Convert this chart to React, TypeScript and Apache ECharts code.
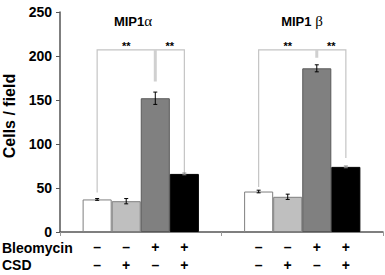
import React, { useEffect, useRef } from "react";
import * as echarts from "echarts";

const categories = ["MIP1α", "MIP1β"];
const conditions = ["Vehicle", "CSD", "Bleomycin", "Bleomycin + CSD"];
const bleomycinSigns = ["–", "–", "+", "+"];
const csdSigns = ["–", "+", "–", "+"];
const vehicleValues = [37, 46];
const csdValues = [35, 40];
const bleoValues = [152, 186];
const bleoCsdValues = [66, 74];
const vehicleErrors = [1, 1.5];
const csdErrors = [3, 3];
const bleoErrors = [7, 4];
const bleoCsdErrors = [1, 1];
// brackets: [group, topValue, leftEnd, middleEnd, rightEnd]
const bracketTop = [207, 207];
const bracketLeftEnd = [45, 51];
const bracketMiddleEnd = [171, 198];
const bracketRightEnd = [67, 84];
const sigLabels = ["**", "**"];
const yTicks = [0, 50, 100, 150, 200, 250];

const seriesValues = [vehicleValues, csdValues, bleoValues, bleoCsdValues];
const seriesErrors = [vehicleErrors, csdErrors, bleoErrors, bleoCsdErrors];
const fills = ["#ffffff", "#bfbfbf", "#808080", "#000000"];
const borders = ["#7f7f7f", "#7f7f7f", "#595959", "#000000"];
const GAP = 0.28;

function barCenter(api: any, g: number, i: number) {
  const cx = api.coord([g, 0])[0];
  const band = api.size([1, 0])[0];
  const bw = (band * (1 - GAP)) / 4;
  return cx + (i - 1.5) * bw;
}

export default function App() {
  const ref = useRef<HTMLDivElement>(null);
  useEffect(() => {
    const chart = echarts.init(ref.current!, null, { renderer: "svg" });
    const font = "Liberation Sans, Arial, sans-serif";

    const errData: any[] = [];
    seriesValues.forEach((vals, i) =>
      vals.forEach((v, g) => errData.push([g, i, v, seriesErrors[i][g]]))
    );
    const signData: any[] = [];
    categories.forEach((_, g) => conditions.forEach((__, i) => signData.push([g, i])));
    const bracketData = categories.map((_, g) => [
      g,
      bracketTop[g],
      bracketLeftEnd[g],
      bracketMiddleEnd[g],
      bracketRightEnd[g],
    ]);

    chart.setOption({
      animation: false,
      grid: { left: 60, right: 2, top: 12, bottom: 43 },
      xAxis: {
        type: "category",
        data: categories,
        axisLine: { lineStyle: { color: "#555", width: 1.5 } },
        axisTick: { show: true, length: 4, lineStyle: { color: "#999" } },
        axisLabel: { show: false },
      },
      yAxis: {
        type: "value",
        min: 0,
        max: 250,
        interval: 50,
        splitLine: { show: false },
        axisLine: { show: true, lineStyle: { color: "#555", width: 1.5 } },
        axisTick: { show: true, length: 4, lineStyle: { color: "#555" } },
        axisLabel: {
          color: "#000",
          fontWeight: "bold",
          fontSize: 14,
          fontFamily: font,
          margin: 8,
        },
      },
      graphic: [
        {
          type: "text",
          x: 9,
          y: 116,
          rotation: Math.PI / 2,
          style: {
            text: "Cells / field",
            fontSize: 16,
            fontWeight: "bold",
            fontFamily: font,
            fill: "#000",
            align: "center",
            verticalAlign: "middle",
          },
        },
        {
          type: "text",
          x: 2,
          y: 248,
          style: {
            text: "Bleomycin",
            fontSize: 14,
            fontWeight: "bold",
            fontFamily: font,
            fill: "#000",
            verticalAlign: "middle",
          },
        },
        {
          type: "text",
          x: 2,
          y: 265,
          style: {
            text: "CSD",
            fontSize: 14,
            fontWeight: "bold",
            fontFamily: font,
            fill: "#000",
            verticalAlign: "middle",
          },
        },
        {
          type: "text",
          x: 133,
          y: 21,
          style: {
            text: "{b|MIP1}{g|α}",
            align: "center",
            verticalAlign: "middle",
            rich: {
              b: { fontSize: 13, fontWeight: "bold", fontFamily: font, fill: "#000" },
              g: { fontSize: 15, fontFamily: "Liberation Serif, serif", fill: "#000" },
            },
          },
        },
        {
          type: "text",
          x: 302,
          y: 21,
          style: {
            text: "{b|MIP1}{g| β}",
            align: "center",
            verticalAlign: "middle",
            rich: {
              b: { fontSize: 13, fontWeight: "bold", fontFamily: font, fill: "#000" },
              g: { fontSize: 15, fontFamily: "Liberation Serif, serif", fill: "#000" },
            },
          },
        },
      ],
      series: [
        ...seriesValues.map((vals, i) => ({
          type: "bar",
          name: conditions[i],
          data: vals,
          barGap: "0%",
          barCategoryGap: GAP * 100 + "%",
          itemStyle: { color: fills[i], borderColor: borders[i], borderWidth: 1 },
        })),
        {
          type: "custom",
          name: "brackets",
          clip: false,
          data: bracketData,
          renderItem: (params: any, api: any) => {
            const g = api.value(0);
            const top = api.coord([g, api.value(1)])[1];
            const l = api.coord([g, api.value(2)])[1];
            const m = api.coord([g, api.value(3)])[1];
            const r = api.coord([g, api.value(4)])[1];
            const x0 = barCenter(api, g, 0);
            const x2 = barCenter(api, g, 2);
            const x3 = barCenter(api, g, 3);
            const ls = { stroke: "#c4c4c4", lineWidth: 1.2 };
            return {
              type: "group",
              children: [
                { type: "polyline", shape: { points: [[x0, l], [x0, top], [x3, top], [x3, r]] }, style: { ...ls, fill: null } },
                { type: "line", shape: { x1: x2, y1: top, x2: x2, y2: m }, style: { stroke: "#d0d0d0", lineWidth: 3 } },
                {
                  type: "text",
                  x: (x0 + x2) / 2,
                  y: top - 4,
                  style: { text: sigLabels[g], fontSize: 11, fontWeight: "bold", fontFamily: font, fill: "#000", align: "center", verticalAlign: "middle" },
                },
                {
                  type: "text",
                  x: (x2 + x3) / 2,
                  y: top - 4,
                  style: { text: sigLabels[g], fontSize: 11, fontWeight: "bold", fontFamily: font, fill: "#000", align: "center", verticalAlign: "middle" },
                },
              ],
            };
          },
          z: 1,
        },
        {
          type: "custom",
          name: "errors",
          clip: false,
          data: errData,
          renderItem: (params: any, api: any) => {
            const g = api.value(0);
            const i = api.value(1);
            const v = api.value(2);
            const e = api.value(3);
            const x = barCenter(api, g, i);
            const y1 = api.coord([g, v + e])[1];
            const y2 = api.coord([g, v - e])[1];
            const st = { stroke: i === 3 ? "#888" : "#000", lineWidth: 1 };
            return {
              type: "group",
              children: [
                { type: "line", shape: { x1: x, y1, x2: x, y2 }, style: st },
                { type: "line", shape: { x1: x - 2, y1, x2: x + 2, y2: y1 }, style: st },
                { type: "line", shape: { x1: x - 2, y1: y2, x2: x + 2, y2 }, style: st },
              ],
            };
          },
          z: 5,
        },
        {
          type: "custom",
          name: "signs",
          clip: false,
          data: signData,
          renderItem: (params: any, api: any) => {
            const g = api.value(0);
            const i = api.value(1);
            const x = barCenter(api, g, i);
            const yb = api.coord([g, 0])[1];
            const ts = { fontSize: 14, fontWeight: "bold", fontFamily: font, fill: "#000", align: "center", verticalAlign: "middle" };
            return {
              type: "group",
              children: [
                { type: "text", x, y: yb + 15, style: { ...ts, text: bleomycinSigns[i] } },
                { type: "text", x, y: yb + 33, style: { ...ts, text: csdSigns[i] } },
              ],
            };
          },
        },
      ],
    });
    return () => chart.dispose();
  }, []);
  return <div ref={ref} style={{ width: 385, height: 275, position: "absolute", left: 0, top: 0 }} />;
}
